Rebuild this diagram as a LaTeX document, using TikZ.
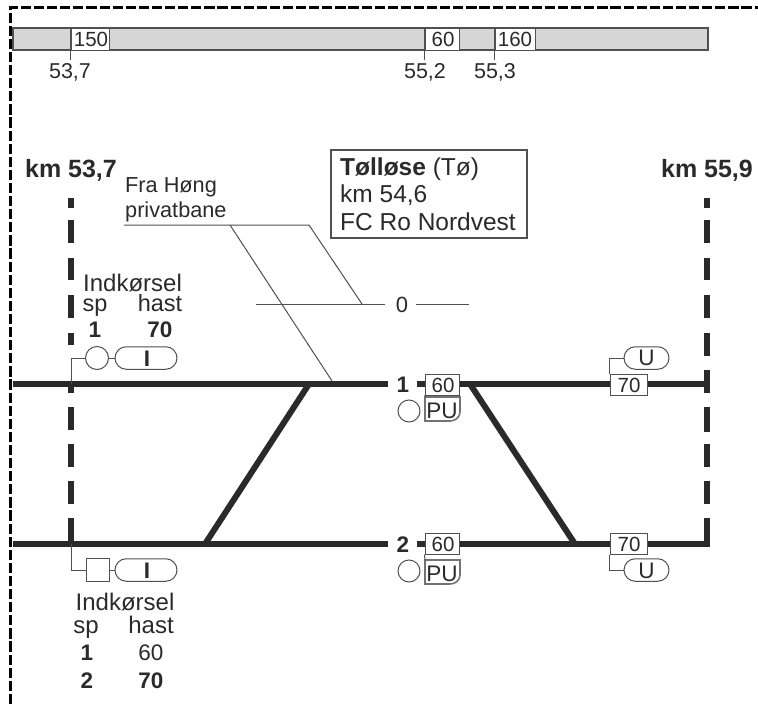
\documentclass[tikz,border=0pt]{standalone}
\usepackage{fontspec}
\setmainfont{Liberation Sans}
\usetikzlibrary{shapes.misc}
\definecolor{ink}{HTML}{2A2A2A}
\definecolor{bargray}{HTML}{D6D6D6}
\definecolor{linegray}{HTML}{505050}
\newcommand{\fz}[1]{\fontsize{#1}{#1}\selectfont}
\tikzset{
  lab/.style={inner sep=0pt,text=ink,anchor=base,font=\fz{24}},
  barlab/.style={inner sep=0pt,text=ink,anchor=base,font=\fz{21.5}},
  blab/.style={inner sep=0pt,text=ink,anchor=base,font=\fz{22.5}\bfseries},
  speedbox/.style={draw=linegray,line width=1pt,fill=white,inner sep=0pt,text=ink,font=\fz{20.5}},
  capsule/.style={draw=linegray,line width=1pt,fill=white,rounded rectangle,inner sep=0pt,minimum width=#1,minimum height=22.5pt},
  signal/.style={draw=linegray,line width=1pt,fill=white,circle,inner sep=0pt,minimum size=#1},
  trackline/.style={line width=6pt,color=ink},
  mastline/.style={line width=6.5pt,color=ink},
  sideline/.style={line width=1pt,color=linegray},
  border/.style={line width=3pt,black,dash pattern=on 10.2pt off 2.9pt}
}
\begin{document}
\begin{tikzpicture}[x=1pt,y=-1pt]
\useasboundingbox (0,0) rectangle (758,704);
% border
\coordinate (bA) at (10.5,704); \coordinate (bB) at (10.5,7); \coordinate (bC) at (758,7);
\draw[border] (bA) -- (bB) -- (bC);
% speed bar
\node[draw=linegray,line width=1.5pt,fill=bargray,inner sep=0pt,minimum width=695pt,minimum height=22pt] (bar) at (360.5,39) {};
\node[speedbox,minimum width=38pt,minimum height=22pt] (s150) at (90,39) {};
\node[speedbox,minimum width=34pt,minimum height=22pt] (s60) at (442,39) {};
\node[speedbox,minimum width=40pt,minimum height=22pt] (s160) at (515,39) {};
\node[barlab,font=\fz{20.5}] (t150) at (91,46.5) {150};
\node[barlab,font=\fz{20.5}] (t60) at (443,46.5) {60};
\node[barlab,font=\fz{20.5}] (t160) at (515,46.5) {160};
\node[barlab] (k1) at (70,78) {53,7};
\node[barlab] (k2) at (425,78) {55,2};
\node[barlab] (k3) at (495,78) {55,3};
\draw[sideline] (s150.north west) -- ++(0,32);
\draw[sideline] (s60.north west) -- ++(0,32);
\draw[sideline] (s160.north west) -- ++(0,32);
% km labels
\node[blab,font=\fz{25}\bfseries] (kmL) at (71,177) {km 53,7};
\node[blab,font=\fz{25}\bfseries] (kmR) at (707,177) {km 55,9};
% masts
\foreach \a/\b in {198/208,220/243,258/280,295/318,333/345,382/393,407/430,444/467,481/504,518/544}
  \draw[mastline] (71,\a) -- (71,\b);
\foreach \a/\b in {198/208,220/243,258/280,295/318,333/356,370/393,407/432,444/467,481/504,518/547}
  \draw[mastline] (707,\a) -- (707,\b);
% info box
\node[draw=linegray,line width=1.2pt,fill=white,minimum width=196pt,minimum height=88pt,inner sep=0pt] (info) at (429,194) {};
\node[lab,anchor=base west,font=\fz{24.5}] (i1) at (340,175) {\textbf{Tølløse} (Tø)};
\node[lab,anchor=base west,font=\fz{24.5}] (i2) at (340,202) {km 54,6};
\node[lab,anchor=base west,font=\fz{24.5}] (i3) at (340,230) {FC Ro Nordvest};
% branch
\node[lab,anchor=base west,font=\fz{21.7}] (fra) at (125,192) {Fra Høng};
\node[lab,anchor=base west,font=\fz{21.7}] (pri) at (125,217) {privatbane};
\coordinate (u0) at (124,225); \coordinate (u1) at (309,225); \coordinate (u2) at (230,225);
\coordinate (t0) at (362,304); \coordinate (t1) at (334,384);
\node[lab,font=\fz{22}] (n0) at (402,312) {0};
\coordinate (zl) at (256,304); \coordinate (zm) at (385,304); \coordinate (zr) at (416,304); \coordinate (zre) at (469,304);
\draw[sideline] (zl) -- (zm);
\draw[sideline] (zr) -- (zre);
\draw[sideline] (u0) -- (u1) -- (t0);
\draw[sideline] (u2) -- (t1);
% tracks
\coordinate (a0) at (13,384); \coordinate (a1) at (388,384); \coordinate (a2) at (417,384);
\coordinate (a3) at (707,384);
\coordinate (b0) at (13,544); \coordinate (b1) at (388,544); \coordinate (b2) at (417,544);
\coordinate (b3) at (710,544);
\draw[trackline] (a0) -- (a1); \draw[trackline] (a2) -- (a3);
\draw[trackline] (b0) -- (b1); \draw[trackline] (b2) -- (b3);
\coordinate (x1) at (309,384); \coordinate (x2) at (205,544);
\coordinate (x3) at (470,384); \coordinate (x4) at (575,544);
\draw[trackline] (x1) -- (x2);
\draw[trackline] (x3) -- (x4);
\node[blab] (n1) at (403,392) {1};
\node[blab] (n2) at (403,552) {2};
% station boxes
\node[speedbox,minimum width=34pt,minimum height=21pt] (p1) at (442,384.5) {};
\node[speedbox,minimum width=34pt,minimum height=21pt] (p2) at (442,543.5) {};
\node[speedbox,minimum width=37pt,minimum height=21pt] (e1) at (628.5,384.5) {};
\node[speedbox,minimum width=37pt,minimum height=21pt] (e2) at (628.5,543.5) {};
\node[barlab,font=\fz{20.5}] (tp1) at (443,392.5) {60};
\node[barlab,font=\fz{20.5}] (tp2) at (443,551.5) {60};
\node[barlab,font=\fz{20.5}] (te1) at (629,392.5) {70};
\node[barlab,font=\fz{20.5}] (te2) at (629,551.5) {70};
% PU
\foreach \nm/\y in {pu1/397,pu2/560}{
  \draw[line width=1.6pt,color=linegray!80,fill=white]
    (425,\y) -- (460,\y) -- (460,\y+15) to[out=-90,in=0] (450,\y+24) -- (425,\y+24) -- cycle;
  \node[lab,font=\fz{22.5}] (\nm) at (442,\y+21) {PU};
}
\draw[sideline] (p1.south west) -- (425,397);
\draw[sideline] (p2.south west) -- (425,560);
\node[signal=22pt] (c1) at (409,411) {};
\node[signal=22pt] (c2) at (409,571) {};
% exit capsules
\node[capsule=45pt] (u1c) at (646.5,358) {};
\node[capsule=45pt] (u2c) at (646.5,570) {};
\node[lab,font=\fz{22.5}] (u1t) at (646.5,365.5) {U};
\node[lab,font=\fz{22.5}] (u2t) at (646.5,578) {U};
\draw[sideline] (e1.north west) |- (u1c.west);
\draw[sideline] (e2.south west) |- (u2c.west);
% entry top
\node[signal=23pt] (sg1) at (97,358) {};
\node[capsule=62pt] (i1c) at (146,358) {};
\node[lab,font=\fz{22.5}\bfseries] (i1t) at (147,366) {I};
\coordinate (m1) at (71,384);
\draw[sideline] (m1) |- (sg1.west);
\draw[sideline] (sg1.east) -- (i1c.west);
\node[lab] (h1) at (132.5,291) {Indkørsel};
\node[lab,font=\fz{23.5}] (h2) at (95,311) {sp};
\node[lab,font=\fz{23.5}] (h3) at (160,311) {hast};
\node[blab] (h4) at (95,337) {1};
\node[blab] (h5) at (160,337) {70};
% entry bottom
\node[draw=linegray,line width=1pt,fill=white,minimum size=23pt,inner sep=0pt] (sg2) at (97.5,570) {};
\node[capsule=62pt] (i2c) at (146,570) {};
\node[lab,font=\fz{22.5}\bfseries] (i2t) at (147,578) {I};
\coordinate (m2) at (71,544);
\draw[sideline] (m2) |- (sg2.west);
\draw[sideline] (sg2.east) -- (i2c.west);
\node[lab] (g1) at (125,610) {Indkørsel};
\node[lab] (g2) at (86,633) {sp};
\node[lab] (g3) at (151,633) {hast};
\node[blab] (g4) at (87,660) {1};
\node[lab,font=\fz{22.5}] (g5) at (151,660) {60};
\node[blab] (g6) at (87,688) {2};
\node[blab] (g7) at (151,688) {70};
\end{tikzpicture}
\end{document}
